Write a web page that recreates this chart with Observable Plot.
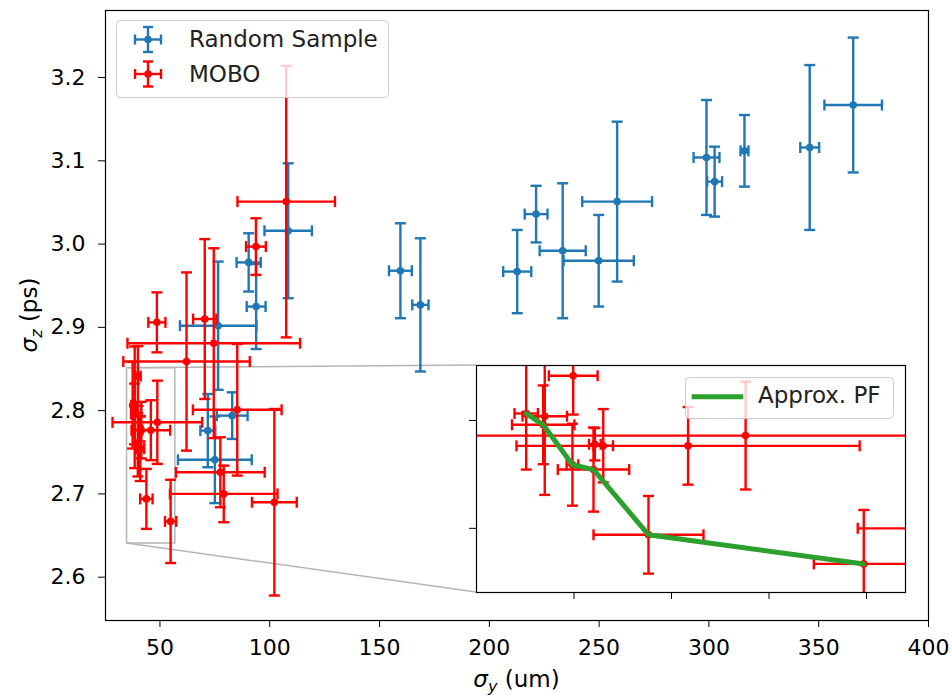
<!DOCTYPE html>
<html><head><meta charset="utf-8">
<script src="https://cdn.jsdelivr.net/npm/d3@7"></script>
<script src="https://cdn.jsdelivr.net/npm/@observablehq/plot@0.6"></script>
<style>
body{margin:0;background:#fff;}
#wrap{position:relative;width:952px;height:697px;overflow:hidden;}
#wrap svg{position:absolute;}
</style></head><body><div id="wrap"></div>
<script>
// ---- data: Random Sample (blue)
const rsX    = [365.7, 345.9, 316.2, 298.9, 302.6, 258.2, 159.5, 168.6, 212.7, 221.3, 233.4, 249.8, 108.4, 90.4, 93.8, 76.5, 82.9, 71.8, 75.0];
const rsY    = [3.167, 3.116, 3.112, 3.104, 3.075, 3.051, 2.968, 2.927, 2.967, 3.036, 2.992, 2.980, 3.016, 2.978, 2.925, 2.902, 2.794, 2.776, 2.741];
const rsXErr = [13.1, 4.3, 1.8, 5.9, 3.4, 15.9, 5.2, 3.7, 6.4, 5.2, 10.5, 16.0, 10.8, 5.5, 4.3, 17.4, 7.0, 3.4, 16.8];
const rsYErr = [0.081, 0.099, 0.043, 0.069, 0.042, 0.096, 0.057, 0.080, 0.050, 0.034, 0.081, 0.055, 0.081, 0.035, 0.051, 0.077, 0.028, 0.044, 0.052];
// ---- data: MOBO (red)
const moX    = [107.5, 93.7, 48.6, 70.4, 74.5, 62.1, 85.2, 48.8, 77.5, 79.05, 102.1, 43.82, 54.86, 39.96, 37.55, 38.5, 38.42, 39.92, 41.0, 41.07, 41.5, 45.85];
const moY    = [3.051, 2.997, 2.906, 2.910, 2.881, 2.859, 2.801, 2.786, 2.726, 2.700, 2.690, 2.694, 2.667, 2.8415, 2.8065, 2.804, 2.796, 2.759, 2.7545, 2.778, 2.7766, 2.7765];
const moXErr = [22.2, 4.5, 3.9, 5.3, 39.3, 28.8, 20.2, 20.4, 20.2, 24.5, 10.2, 2.82, 2.56, 1.25, 0.6, 1.14, 1.6, 0.3, 1.83, 0.3, 0.5, 8.8];
const moYErr = [0.163, 0.034, 0.036, 0.096, 0.114, 0.107, 0.079, 0.050, 0.042, 0.034, 0.112, 0.036, 0.050, 0.036, 0.052, 0.073, 0.0365, 0.038, 0.039, 0.015, 0.034, 0.036];
// ---- approximate Pareto front (inset only)
const pfX = [37.55, 38.42, 39.92, 41.0, 43.82, 54.86];
const pfY = [2.8065, 2.796, 2.759, 2.7545, 2.694, 2.667];
// ---- axes
const xTicks = [50, 100, 150, 200, 250, 300, 350, 400];
const yTicks = [2.6, 2.7, 2.8, 2.9, 3.0, 3.1, 3.2];
const xDomain = [25.2, 400];
const yDomain = [2.548, 3.2805];
// ---- zoomed region shown in the inset
const zoomX = [35, 57];
const zoomY = [2.6405, 2.851];
const insetXTicks = [40, 45, 50, 55];
const insetYTicks = [2.7, 2.8];
const seriesNames = ["Random Sample", "MOBO"];
const pfName = "Approx. PF";

const BLUE = "#1f77b4", RED = "#ff0000", GREEN = "#2ca02c";
const LW = 2.4, CAP = 5.5, MR = 3.8;
const FONT = "DejaVu Sans, sans-serif";

const toRows = (xs, ys, xe, ye) => xs.map((x, i) => ({x, y: ys[i], xe: xe[i], ye: ye[i]}));
const rs = toRows(rsX, rsY, rsXErr, rsYErr);
const mo = toRows(moX, moY, moXErr, moYErr);
const pf = pfX.map((x, i) => ({x, y: pfY[i]}));

const hCap = {draw(ctx, size) { const r = Math.sqrt(size / Math.PI); ctx.moveTo(-r, 0); ctx.lineTo(r, 0); }};
const vCap = {draw(ctx, size) { const r = Math.sqrt(size / Math.PI); ctx.moveTo(0, -r); ctx.lineTo(0, r); }};

function errMarks(rows, color, extra = {}) {
  const yc = rows.flatMap(d => [{x: d.x, y: d.y - d.ye}, {x: d.x, y: d.y + d.ye}]);
  const xc = rows.flatMap(d => [{x: d.x - d.xe, y: d.y}, {x: d.x + d.xe, y: d.y}]);
  return [
    Plot.ruleY(rows, {y: "y", x1: d => d.x - d.xe, x2: d => d.x + d.xe, stroke: color, strokeWidth: LW, ...extra}),
    Plot.ruleX(rows, {x: "x", y1: d => d.y - d.ye, y2: d => d.y + d.ye, stroke: color, strokeWidth: LW, ...extra}),
    Plot.dot(yc, {x: "x", y: "y", symbol: hCap, r: CAP, stroke: color, strokeWidth: LW, fill: "none", ...extra}),
    Plot.dot(xc, {x: "x", y: "y", symbol: vCap, r: CAP, stroke: color, strokeWidth: LW, fill: "none", ...extra}),
    Plot.dot(rows, {x: "x", y: "y", r: MR, fill: color, stroke: "none", ...extra})
  ];
}

const main = Plot.plot({
  width: 952, height: 697,
  marginLeft: 105, marginRight: 24, marginTop: 10, marginBottom: 77,
  style: {fontFamily: FONT, fontSize: "22px", color: "black", background: "white"},
  x: {domain: xDomain, ticks: xTicks, tickSize: 7, tickPadding: 12, label: null},
  y: {domain: yDomain, ticks: yTicks, tickSize: 7, tickPadding: 13, label: null, tickFormat: d3.format(".1f")},
  marks: [
    Plot.rect([{x1: zoomX[0], x2: zoomX[1], y1: zoomY[0], y2: zoomY[1]}],
      {x1: "x1", x2: "x2", y1: "y1", y2: "y2", fill: "none", stroke: "#b5b5b5", strokeWidth: 1.5}),
    ...errMarks(rs, BLUE),
    ...errMarks(mo, RED),
    Plot.frame({stroke: "black", strokeWidth: 1.2})
  ]
});
main.style.left = "0px"; main.style.top = "0px";
const wrap = document.getElementById("wrap");
wrap.appendChild(main);

// inset layout (pixels)
const IN = {left: 476, top: 365, w: 429, h: 227, ml: 9, mr: 2, mt: 2, mb: 9};

const inset = Plot.plot({
  width: IN.w + IN.ml + IN.mr, height: IN.h + IN.mt + IN.mb,
  marginLeft: IN.ml, marginRight: IN.mr, marginTop: IN.mt, marginBottom: IN.mb,
  style: {fontFamily: FONT, fontSize: "22px", color: "black", background: "none"},
  x: {domain: zoomX, ticks: insetXTicks, tickFormat: () => "", tickSize: 7, label: null},
  y: {domain: zoomY, ticks: insetYTicks, tickFormat: () => "", tickSize: 7, label: null},
  marks: [
    Plot.frame({fill: "white", stroke: "none"}),
    ...errMarks(mo, RED, {clip: true}),
    Plot.line(pf, {x: "x", y: "y", stroke: GREEN, strokeWidth: 5, clip: true}),
    Plot.frame({stroke: "black", strokeWidth: 1.2})
  ]
});
inset.style.left = (IN.left - IN.ml) + "px";
inset.style.top = (IN.top - IN.mt) + "px";
inset.style.maxWidth = "none";
wrap.appendChild(inset);

// connector lines from zoom box to inset corners (beneath data)
const sx = main.scale("x"), sy = main.scale("y");
const msvg = d3.select(main);
const conn = msvg.insert("g", ":first-child").attr("stroke", "#b5b5b5").attr("stroke-width", 1.5).attr("fill", "none");
conn.append("line").attr("x1", sx.apply(zoomX[0])).attr("y1", sy.apply(zoomY[1])).attr("x2", IN.left).attr("y2", IN.top);
conn.append("line").attr("x1", sx.apply(zoomX[0])).attr("y1", sy.apply(zoomY[0])).attr("x2", IN.left).attr("y2", IN.top + IN.h);

// axis labels
const xl = msvg.append("text").attr("x", 516.5).attr("y", 687).attr("text-anchor", "middle")
  .attr("font-size", 23).attr("font-family", FONT).attr("fill", "black");
xl.append("tspan").attr("font-style", "italic").text("σ");
xl.append("tspan").attr("font-style", "italic").attr("font-size", 16).attr("dy", 5).text("y");
xl.append("tspan").attr("dy", -5).text(" (um)");
const yl = msvg.append("text").attr("transform", "translate(37,315) rotate(-90)").attr("text-anchor", "middle")
  .attr("font-size", 23).attr("font-family", FONT).attr("fill", "black");
yl.append("tspan").attr("font-style", "italic").text("σ");
yl.append("tspan").attr("font-style", "italic").attr("font-size", 16).attr("dy", 5).text("z");
yl.append("tspan").attr("dy", -5).text(" (ps)");

// main legend
function errSymbol(g, cx, cy, color) {
  const s = g.append("g").attr("stroke", color).attr("stroke-width", LW);
  s.append("line").attr("x1", cx - 13).attr("x2", cx + 13).attr("y1", cy).attr("y2", cy);
  s.append("line").attr("x1", cx).attr("x2", cx).attr("y1", cy - 12.5).attr("y2", cy + 12.5);
  s.append("line").attr("x1", cx - 13).attr("x2", cx - 13).attr("y1", cy - 5).attr("y2", cy + 5);
  s.append("line").attr("x1", cx + 13).attr("x2", cx + 13).attr("y1", cy - 5).attr("y2", cy + 5);
  s.append("line").attr("x1", cx - 5).attr("x2", cx + 5).attr("y1", cy - 12.5).attr("y2", cy - 12.5);
  s.append("line").attr("x1", cx - 5).attr("x2", cx + 5).attr("y1", cy + 12.5).attr("y2", cy + 12.5);
  g.append("circle").attr("cx", cx).attr("cy", cy).attr("r", MR).attr("fill", color);
}
const lg = msvg.append("g").attr("font-family", FONT).attr("font-size", 23).attr("text-anchor", "start");
lg.append("rect").attr("x", 116.5).attr("y", 20.5).attr("width", 272).attr("height", 77).attr("rx", 4)
  .attr("fill", "white").attr("fill-opacity", 0.8).attr("stroke", "#cccccc");
[[BLUE, 39.5, 47], [RED, 74, 82]].forEach(([c, cy, by], i) => {
  errSymbol(lg, 148, cy, c);
  lg.append("text").attr("x", 189).attr("y", by).attr("text-anchor", "start").attr("fill", "#222").text(seriesNames[i]);
});

// inset legend
const isvg = d3.select(inset);
const ilg = isvg.append("g").attr("font-family", FONT).attr("font-size", 23).attr("text-anchor", "start");
ilg.append("rect").attr("x", 218.5).attr("y", 14.5).attr("width", 208).attr("height", 41).attr("rx", 4)
  .attr("fill", "white").attr("fill-opacity", 0.8).attr("stroke", "#cccccc");
ilg.append("line").attr("x1", 224.7).attr("x2", 276.3).attr("y1", 33.7).attr("y2", 33.7)
  .attr("stroke", GREEN).attr("stroke-width", 5);
ilg.append("text").attr("x", 291).attr("y", 40).attr("text-anchor", "start").attr("fill", "#222").text(pfName);
</script></body></html>
